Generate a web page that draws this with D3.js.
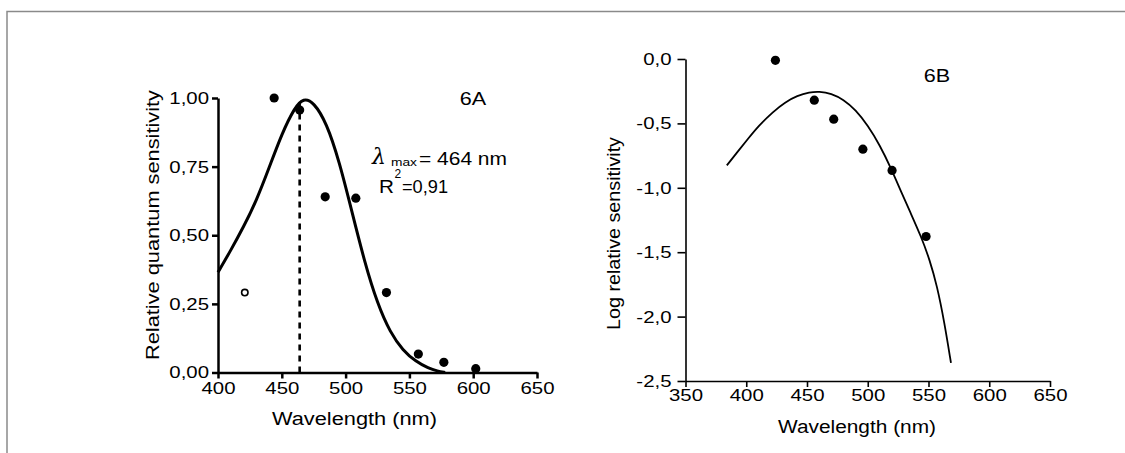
<!DOCTYPE html>
<html>
<head>
<meta charset="utf-8">
<script src="https://cdn.jsdelivr.net/npm/d3@7"></script>
<style>
  body { margin: 0; background: #fff; }
  svg { display: block; font-family: "Liberation Sans", Arial, sans-serif; }
</style>
</head>
<body>
<div id="chart"></div>
<script>
// panel 6A: fitted template and measured points
const fitAWl  = [400, 410, 420, 430, 440, 450, 460, 467, 475, 485, 495, 505, 515, 525, 535, 545, 555, 565, 572, 578];
const fitAVal = [0.365, 0.445, 0.53, 0.625, 0.745, 0.87, 0.965, 1.0, 0.985, 0.91, 0.77, 0.585, 0.40, 0.25, 0.145, 0.08, 0.04, 0.015, 0.005, 0.0];
const ptsAWl  = [444, 464, 484, 508, 532, 557, 577, 602];
const ptsAVal = [1.00, 0.956, 0.64, 0.635, 0.291, 0.067, 0.037, 0.014];
const openAWl  = [421];
const openAVal = [0.291];
const lambdaMax = 464;
const lambdaTop = 0.985;
const ticksAX = [400, 450, 500, 550, 600, 650];
const ticksAY = [0, 0.25, 0.5, 0.75, 1.0];

// panel 6B: log sensitivity
const fitBWl  = [384, 392, 401, 410, 422, 432, 442, 452, 460, 470, 480, 490, 500, 510, 519, 527, 535, 544, 551, 557, 563, 568.5];
const fitBVal = [-0.826, -0.73, -0.625, -0.52, -0.41, -0.335, -0.285, -0.258, -0.252, -0.268, -0.315, -0.395, -0.515, -0.67, -0.845, -1.02, -1.19, -1.38, -1.56, -1.76, -2.04, -2.36];
const ptsBWl  = [424, 456, 472, 496, 520, 548];
const ptsBVal = [-0.01, -0.32, -0.467, -0.70, -0.865, -1.378];
const ticksBX = [350, 400, 450, 500, 550, 600, 650];
const ticksBY = [0, -0.5, -1.0, -1.5, -2.0, -2.5];

const W = 1125, H = 453;
const SX = 1.2; // scanned text is wider than it is tall

const svg = d3.select('#chart').append('svg')
  .attr('width', W)
  .attr('height', H);

// cropped frame: top and left edges only
svg.append('path')
  .attr('d', `M7,${H} L7,11.5 L${W},11.5`)
  .attr('fill', 'none')
  .attr('stroke', '#8a8a8a')
  .attr('stroke-width', 1.5);

function label(x, y, txt, opts = {}) {
  const t = svg.append('text')
    .attr('transform', `translate(${x},${y}) rotate(${opts.rotate || 0}) scale(${opts.sx || 1},1)`)
    .attr('font-size', opts.size || 17)
    .attr('text-anchor', opts.anchor || 'start')
    .attr('fill', '#000')
    .text(txt);
  if (opts.len) t.attr('textLength', opts.len).attr('lengthAdjust', 'spacingAndGlyphs');
  if (opts.family) t.attr('font-family', opts.family);
  if (opts.italic) t.attr('font-style', 'italic');
  return t;
}

function styleAxis(g, width, sx, vertical, pad) {
  g.select('.domain').attr('stroke', '#000').attr('stroke-width', width);
  g.selectAll('.tick line').attr('stroke', '#000').attr('stroke-width', width);
  g.selectAll('.tick text')
    .attr('font-size', 17)
    .attr('fill', '#000')
    .attr('font-family', '"Liberation Sans", Arial, sans-serif')
    .attr('transform', `scale(${sx},1)`);
  if (vertical) g.selectAll('.tick text').attr('x', -pad / sx);
}

// ---------- 6A ----------
const xA = d3.scaleLinear().domain([400, 650]).range([218, 537]);
const yA = d3.scaleLinear().domain([0, 1]).range([372.5, 98]);
const fmt2 = d => d.toFixed(2).replace('.', ',');

const gAx = svg.append('g')
  .attr('transform', `translate(0,${yA(0)})`)
  .call(d3.axisBottom(xA).tickValues(ticksAX).tickSize(6).tickSizeOuter(0).tickPadding(3));
styleAxis(gAx, 2.5, SX, false);

const gAy = svg.append('g')
  .attr('transform', `translate(${xA(400)},0)`)
  .call(d3.axisLeft(yA).tickValues(ticksAY).tickFormat(fmt2).tickSize(6).tickSizeOuter(0));
styleAxis(gAy, 2.5, SX, true, 9);

const fitA = fitAWl.map((w, i) => [w, fitAVal[i]]);
svg.append('path')
  .datum(fitA)
  .attr('fill', 'none')
  .attr('stroke', '#000')
  .attr('stroke-width', 3)
  .attr('stroke-linejoin', 'round')
  .attr('d', d3.line().x(d => xA(d[0])).y(d => yA(d[1])).curve(d3.curveBasis));

svg.append('line')
  .attr('x1', xA(lambdaMax)).attr('x2', xA(lambdaMax))
  .attr('y1', yA(0)).attr('y2', yA(lambdaTop))
  .attr('stroke', '#000')
  .attr('stroke-width', 2.6)
  .attr('stroke-dasharray', '6,5');

svg.append('g').selectAll('circle')
  .data(ptsAWl.map((w, i) => [w, ptsAVal[i]]))
  .join('circle')
  .attr('cx', d => xA(d[0]))
  .attr('cy', d => yA(d[1]))
  .attr('r', 4.6)
  .attr('fill', '#000');

svg.append('g').selectAll('circle')
  .data(openAWl.map((w, i) => [w, openAVal[i]]))
  .join('circle')
  .attr('cx', d => xA(d[0]))
  .attr('cy', d => yA(d[1]))
  .attr('r', 3.2)
  .attr('fill', '#fff')
  .attr('stroke', '#000')
  .attr('stroke-width', 1.6);

label(473, 105, '6A', { anchor: 'middle', size: 18, sx: SX });
label(372, 164, 'λ', { size: 22, family: '"DejaVu Serif", serif', italic: true });
label(391, 166, 'max', { size: 11, len: 26 });
label(419, 165, '= 464 nm', { size: 18, len: 88 });
label(379, 193, 'R', { size: 18, sx: 1.15 });
label(394.5, 178, '2', { size: 12 });
label(402, 193, '=0,91', { size: 18, len: 46 });

label(272, 425, 'Wavelength (nm)', { size: 18, len: 165 });
label(159, 225, 'Relative quantum sensitivity', { size: 18, rotate: -90, anchor: 'middle', len: 270 });

// ---------- 6B ----------
const xB = d3.scaleLinear().domain([350, 650]).range([685.5, 1050]);
const yB = d3.scaleLinear().domain([-2.5, 0]).range([381, 59]);
const fmt1 = d => d.toFixed(1).replace('.', ',');

const gBx = svg.append('g')
  .attr('transform', `translate(0,${yB(-2.5)})`)
  .call(d3.axisBottom(xB).tickValues(ticksBX).tickSize(6).tickSizeOuter(0).tickPadding(2));
styleAxis(gBx, 1.6, SX, false);

const gBy = svg.append('g')
  .attr('transform', `translate(${xB(350)},0)`)
  .call(d3.axisLeft(yB).tickValues(ticksBY).tickFormat(fmt1).tickSize(8).tickSizeOuter(0));
styleAxis(gBy, 1.6, SX, true, 14);

const fitB = fitBWl.map((w, i) => [w, fitBVal[i]]);
svg.append('path')
  .datum(fitB)
  .attr('fill', 'none')
  .attr('stroke', '#000')
  .attr('stroke-width', 1.8)
  .attr('stroke-linejoin', 'round')
  .attr('d', d3.line().x(d => xB(d[0])).y(d => yB(d[1])).curve(d3.curveBasis));

svg.append('g').selectAll('circle')
  .data(ptsBWl.map((w, i) => [w, ptsBVal[i]]))
  .join('circle')
  .attr('cx', d => xB(d[0]))
  .attr('cy', d => yB(d[1]))
  .attr('r', 4.6)
  .attr('fill', '#000');

label(937, 82, '6B', { anchor: 'middle', size: 18, sx: SX });
label(778, 433, 'Wavelength (nm)', { size: 18, len: 158 });
label(620, 233.5, 'Log relative sensitivity', { size: 18, rotate: -90, anchor: 'middle', len: 193 });
</script>
</body>
</html>
